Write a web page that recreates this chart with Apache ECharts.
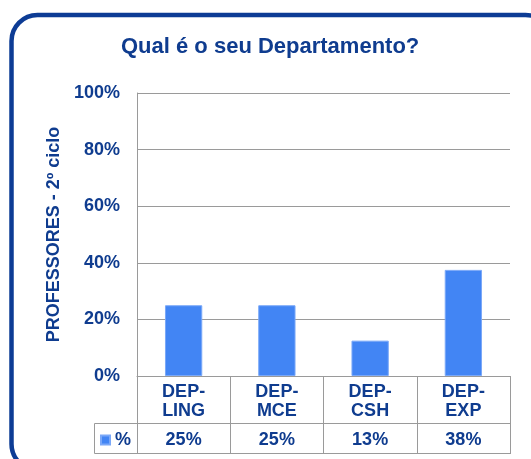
<!DOCTYPE html>
<html>
<head>
<meta charset="utf-8">
<script src="https://cdn.jsdelivr.net/npm/echarts@6/dist/echarts.min.js"></script>
<style>
html,body{margin:0;padding:0;background:#fff;}
#c{width:531px;height:459px;}
</style>
</head>
<body>
<div id="c"></div>
<script>
var categories = ['DEP-\nLING', 'DEP-\nMCE', 'DEP-\nCSH', 'DEP-\nEXP'];
var values = [25, 25, 12.5, 37.5];
var tableLabels = ['25%', '25%', '13%', '38%'];
var yTicks = [0, 20, 40, 60, 80, 100];
var seriesName = '%';
var titleText = 'Qual é o seu Departamento?';
var yAxisTitle = 'PROFESSORES - 2º ciclo';

var blue = '#0f3c8f';
var grey = '#9a9a9a';
var font = 'Liberation Sans, Arial, sans-serif';

var chart = echarts.init(document.getElementById('c'));
chart.setOption({
  animation: false,
  backgroundColor: '#fff',
  title: {
    text: titleText,
    left: 121, top: 36,
    padding: 0,
    textStyle: {color: blue, fontSize: 22, fontWeight: 'bold', fontFamily: font}
  },
  legend: {
    data: [seriesName],
    left: 100, top: 431,
    padding: 0,
    icon: 'rect', itemWidth: 9, itemHeight: 9, itemGap: 4,
    textStyle: {color: blue, fontSize: 18, fontWeight: 'bold', fontFamily: font}
  },
  grid: {left: 137, right: 21, top: 93, bottom: 83},
  xAxis: [{
    type: 'category',
    data: categories,
    position: 'bottom',
    axisLine: {show: true, lineStyle: {color: grey, width: 1}},
    axisTick: {show: true, alignWithLabel: false, length: 78, lineStyle: {color: grey}},
    axisLabel: {color: blue, fontSize: 18, fontWeight: 'bold', fontFamily: font, lineHeight: 19, margin: 7}
  }, {
    type: 'category',
    data: categories,
    position: 'bottom',
    offset: 47,
    axisLine: {show: true, lineStyle: {color: grey, width: 1}},
    axisTick: {show: false},
    axisLabel: {
      color: blue, fontSize: 18, fontWeight: 'bold', fontFamily: font, margin: 8,
      formatter: function (v, i) { return tableLabels[i]; }
    }
  }],
  yAxis: {
    type: 'value',
    min: yTicks[0], max: yTicks[yTicks.length - 1], interval: 20,
    name: yAxisTitle,
    nameLocation: 'middle',
    nameRotate: 90,
    nameGap: 70,
    nameTextStyle: {color: blue, fontSize: 18, fontWeight: 'bold', fontFamily: font},
    axisLine: {show: true, lineStyle: {color: grey, width: 1}},
    axisTick: {show: false},
    splitLine: {show: true, lineStyle: {color: grey, width: 1}},
    axisLabel: {color: blue, fontSize: 18, fontWeight: 'bold', fontFamily: font, margin: 17, formatter: '{value}%'}
  },
  series: [{
    name: seriesName,
    type: 'bar',
    data: values,
    barWidth: '40%',
    itemStyle: {color: '#4285f4', borderColor: '#7aa8f8', borderWidth: 1}
  }],
  graphic: [{
    type: 'rect',
    shape: {x: 11.5, y: 15, width: 540, height: 455, r: 26},
    style: {fill: 'none', stroke: '#0d3c95', lineWidth: 4.5},
    silent: true
  }, {
    type: 'rect',
    shape: {x: 94.5, y: 423.5, width: 416, height: 30},
    style: {fill: 'none', stroke: grey, lineWidth: 1},
    silent: true
  }]
});
</script>
</body>
</html>
